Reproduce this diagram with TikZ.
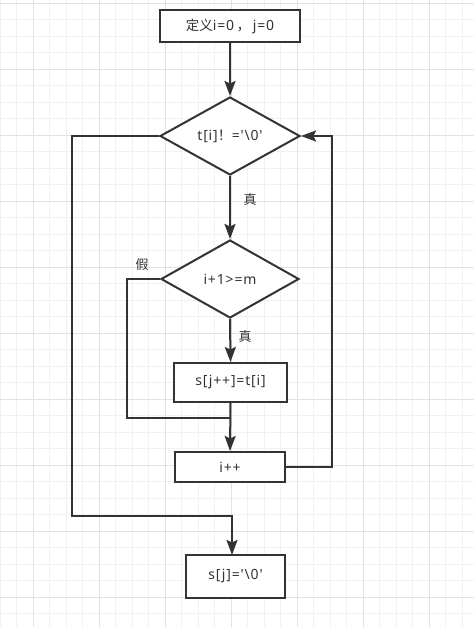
\documentclass[tikz,border=0pt]{standalone}
\usepackage{fontspec}
\newfontfamily\lat[LetterSpace=6]{Noto Sans}
\newfontfamily\cjk{Noto Sans CJK SC}
\usetikzlibrary{shapes.geometric,arrows.meta,calc}
\definecolor{ink}{HTML}{333333}
\definecolor{gminor}{HTML}{F1F1F1}
\definecolor{gmajor}{HTML}{E2E2E2}
\begin{document}
\begin{tikzpicture}[x=1pt,y=-1pt,
  font=\fontsize{14}{16}\lat,
  boxnode/.style={draw=ink,line width=2pt,rectangle,inner sep=0pt,fill=white,text=ink},
  decision/.style={draw=ink,line width=2pt,diamond,shape aspect=1.8,inner sep=0pt,fill=white,text=ink,minimum width=140pt,minimum height=78pt},
  flow/.style={draw=ink,line width=2pt,-{Stealth[length=15pt,width=11pt,inset=2.5pt]}},
  plain/.style={draw=ink,line width=2pt},
  lbl/.style={inner sep=0pt,text=ink,font=\fontsize{13}{15}\cjk}]
\useasboundingbox (0,0) rectangle (474,627);
\fill[white] (0,0) rectangle (474,627);
% grid
\foreach \i in {0,...,29}{
  \draw[gminor,line width=1pt] (\i*16.5,0) -- (\i*16.5,627);
}
\foreach \i in {0,...,38}{
  \draw[gminor,line width=1pt] (0,3+\i*16.5) -- (474,3+\i*16.5);
}
\foreach \i in {0,...,7}{
  \draw[gmajor,line width=1pt] (33+\i*66,0) -- (33+\i*66,627);
}
\foreach \i in {0,...,9}{
  \draw[gmajor,line width=1pt] (0,3+\i*66) -- (474,3+\i*66);
}
% nodes
\node[boxnode,minimum width=140pt,minimum height=32pt] (init) at (230,26) {{\cjk\fontsize{13.5}{16}\selectfont 定义}i=0\,{\cjk ，}\,j=0};
\node[decision] (d1) at (230,136) {t[i]{\cjk ！}='\textbackslash0'};
\node[decision,minimum width=138pt] (d2) at (230,279) {i+1>=m};
\node[boxnode,minimum width=113pt,minimum height=39pt] (copy) at (230.5,382.5) {s[j++]=t[i]};
\node[boxnode,minimum width=110pt,minimum height=30pt] (inc) at (230,467) {i++};
\node[boxnode,minimum width=99pt,minimum height=43pt] (term) at (235.5,576.5) {s[j]='\textbackslash0'};
% labels
\node[lbl] (t1) at (250,200) {真};
\node[lbl] (t2) at (245,337) {真};
\node[lbl] (f1) at (142,265) {假};
% coordinates
\coordinate (fl) at (127,279);
\coordinate (fm) at (127,418);
\coordinate (jm) at (230,418);
\coordinate (rr) at (332,467);
\coordinate (rt) at (332,136);
\coordinate (el) at (72,136);
\coordinate (eb) at (72,516);
\coordinate (ec) at (232,516);
\coordinate (et) at (232,555);
% connectors
\draw[flow] (init.south) -- (d1.north);
\draw[flow] (d1.south) -- (d2.north);
\draw[flow] (d2.south) -- (copy.north);
\draw[flow] (copy.south) -- (inc.north);
\draw[plain] (d2.west) -- (fl) -- (fm) -- (jm);
\draw[flow] (inc.east) -- (rr) -- (rt) -- (d1.east);
\draw[flow] (d1.west) -- (el) -- (eb) -- (ec) -- (et);
\end{tikzpicture}
\end{document}
